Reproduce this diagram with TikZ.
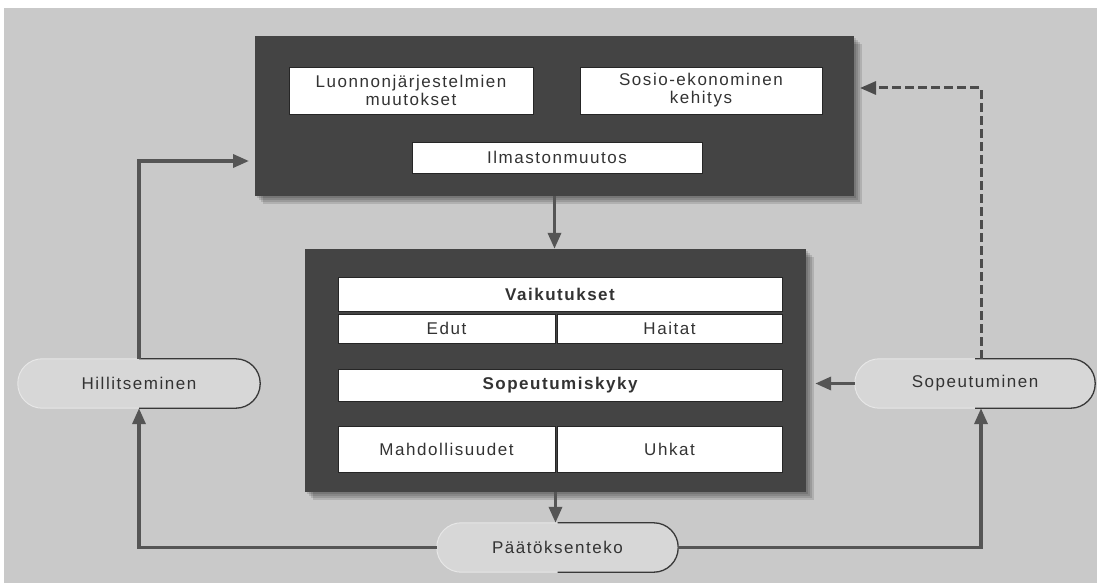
\documentclass[tikz,border=0pt]{standalone}
\usepackage{fontspec}
\setmainfont{Liberation Sans}[LetterSpace=9]
\usetikzlibrary{arrows.meta,shapes.misc,calc}
\definecolor{bgc}{HTML}{C9C9C9}
\definecolor{panelc}{HTML}{444444}
\definecolor{linec}{HTML}{555555}
\definecolor{txtc}{HTML}{333333}
\definecolor{pillc}{HTML}{D7D7D7}
\begin{document}
\begin{tikzpicture}[x=1pt,y=-1pt,
  panel/.style={fill=panelc,draw=none,inner sep=0,minimum width=#1},
  cell/.style={fill=white,draw=black!85,line width=0.8pt,inner sep=0,text=txtc,
    font=\fontsize{17}{18}\selectfont,align=center},
  pillnode/.style={rounded rectangle,fill=pillc,draw=none,inner sep=0,text=txtc,
    font=\fontsize{17}{18}\selectfont,minimum height=49pt},
  pillright/.style={draw=black!78,line width=1.3pt,rounded corners=24.5pt},
  pillleft/.style={draw=white!55!bgc,line width=1pt,rounded corners=24.5pt},
  conn/.style={draw=linec,line width=3.5pt,-{Triangle[length=16pt,width=13pt]}},
  dconn/.style={draw=linec!90!black,line width=3pt,dash pattern=on 9pt off 4pt,-{Triangle[length=16pt,width=13pt]}},
  shade/.style={fill=black,opacity=0.12}
]
\useasboundingbox (0,0) rectangle (1097,583);
\fill[white] (0,0) rectangle (1097,583);
\fill[bgc] (4,8) rectangle (1097,583);

% shadows
\foreach \k in {2,4,6,8}{
  \fill[shade] (255+\k,36+\k) rectangle (854+\k,196+\k);
  \fill[shade] (305+\k,249+\k) rectangle (806+\k,492+\k);
}

% top panel
\node[panel=599pt,minimum height=160pt] (top) at (554.5,116) {};
\node[cell,minimum width=244pt,minimum height=47pt] (luon) at (411,90.5) {Luonnonjärjestelmien\\muutokset};
\node[cell,minimum width=242pt,minimum height=47pt] (sosio) at (701,90.5) {Sosio-ekonominen\\kehitys};
\node[cell,minimum width=290pt,minimum height=31pt] (ilm) at (557,157.5) {Ilmastonmuutos};

% bottom panel
\node[panel=501pt,minimum height=243pt] (bot) at (555.5,370.5) {};
\node[cell,minimum width=444pt,minimum height=34pt] (vaik) at (560,294) {\bfseries Vaikutukset};
\node[cell,minimum width=217pt,minimum height=29pt] (edut) at (446.5,328.5) {Edut};
\node[cell,minimum width=225pt,minimum height=29pt] (hait) at (669.5,328.5) {Haitat};
\node[cell,minimum width=444pt,minimum height=32pt] (sopk) at (560,385) {\bfseries Sopeutumiskyky};
\node[cell,minimum width=217pt,minimum height=46pt] (mahd) at (446.5,449) {Mahdollisuudet};
\node[cell,minimum width=225pt,minimum height=46pt] (uhk) at (669.5,449) {Uhkat};

% pills
\node[pillnode,minimum width=242pt] (hil) at (139,383.5) {Hillitseminen};
\node[pillnode,minimum width=240pt] (sop) at (975,383.5) {Sopeutuminen};
\node[pillnode,minimum width=241pt] (paat) at (557.5,547.5) {Päätöksenteko};
\foreach \p in {hil,sop,paat}{
  \draw[pillleft] (\p.north) -- (\p.north -| \p.west) -- (\p.south -| \p.west) -- (\p.south);
  \draw[pillright] (\p.north) -- (\p.north -| \p.east) -- (\p.south -| \p.east) -- (\p.south);
}

% helper coordinates
\coordinate (topin) at (249,161);
\coordinate (dashin) at (860,88);
\coordinate (sopb) at ([xshift=6pt]sop.south);
\coordinate (sopt) at ([xshift=6pt]sop.north);

% connectors
\draw[conn] (top.south) -- (top.south |- bot.north);
\draw[conn] (bot.south) -- (bot.south |- paat.north);
\draw[conn] (paat.west) -| (hil.south);
\draw[conn] (paat.east) -| (sopb);
\draw[conn] (hil.north) |- (topin);
\draw[conn,shorten >=9pt] (sop.west) -- (sop.west -| bot.east);
\draw[dconn] (sopt) |- (dashin);
\end{tikzpicture}
\end{document}
